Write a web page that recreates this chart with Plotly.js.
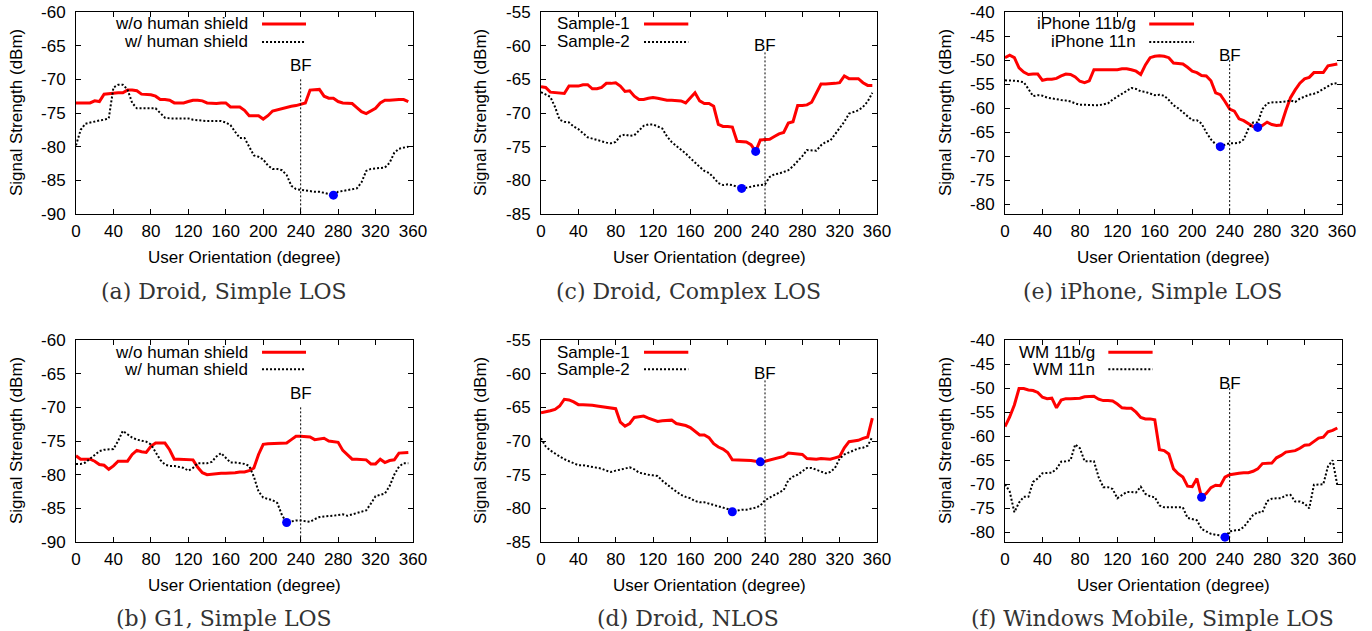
<!DOCTYPE html>
<html><head><meta charset="utf-8">
<script src="https://cdn.plot.ly/plotly-3.0.1.min.js"></script>
<style>html,body{margin:0;padding:0;background:#fff;}#chart{width:1372px;height:631px;}</style>
</head><body><div id="chart"></div>
<script>
// ---------- data ----------
const angles = [0,5,10,15,20,25,30,35, 40,45,50,55,60,65,70,75, 80,85,90,95,100,105,110,115,
  120,125,130,135,140,145,150,155, 160,165,170,175,180,185,190,195, 200,205,210,215,220,225,230,235,
  240,245,250,255,260,265,270,275, 280,285,290,295,300,305,310,315, 320,325,330,335,340,345,350,355];

// (a) Droid, Simple LOS
const aRed = [-73.5,-73.5,-73.5,-73.5,-73.2,-73.3,-72.2,-72.1, -72.0,-72.0,-72.0,-71.6,-71.6,-71.7,-72.2,-72.2,
  -72.3,-72.5,-73.0,-73.0,-73.1,-73.5,-73.5,-73.5, -73.3,-73.1,-73.1,-73.2,-73.5,-73.6,-73.6,-73.5,
  -73.5,-74.1,-74.1,-74.1,-74.6,-75.4,-75.4,-75.4, -75.9,-75.4,-74.7,-74.5,-74.4,-74.1,-74.0,-73.9,
  -73.7,-73.5,-71.6,-71.5,-71.5,-72.5,-72.8,-72.8, -73.3,-73.5,-73.5,-73.6,-74.2,-74.8,-75.1,-74.7,
  -74.3,-73.5,-73.1,-73.1,-73.0,-73.0,-73.0,-73.3];
const aBlack = [-79.8,-77.5,-76.6,-76.4,-76.2,-76.1,-76.0,-75.8, -71.2,-70.8,-70.8,-71.5,-73.5,-74.3,-74.3,-74.3,
  -74.3,-74.3,-75.0,-75.7,-75.8,-75.8,-75.7,-75.7, -75.8,-76.0,-76.1,-76.2,-76.2,-76.2,-76.2,-76.2,
  -76.4,-76.8,-77.8,-78.7,-78.7,-80.1,-81.3,-81.5, -81.9,-82.8,-83.3,-83.3,-83.5,-84.2,-85.8,-86.3,
  -86.4,-86.6,-86.7,-86.7,-86.7,-86.9,-87.0,-87.2, -86.7,-86.6,-86.5,-86.4,-86.2,-85.3,-83.6,-83.3,
  -83.2,-83.2,-83.1,-82.4,-80.9,-80.3,-80.1,-80.0];
// (c) Droid, Complex LOS
const cRed = [-66.1,-66.2,-66.9,-67.0,-67.1,-67.1,-66.0,-66.0, -66.0,-65.8,-65.8,-66.4,-66.4,-66.2,-65.6,-65.6,
  -65.5,-66.0,-66.8,-66.7,-67.5,-68.0,-68.0,-67.8, -67.7,-67.8,-68.0,-68.1,-68.1,-68.1,-68.2,-68.5,
  -67.8,-67.0,-68.2,-68.6,-68.6,-69.0,-71.7,-72.0, -72.0,-72.1,-74.2,-74.2,-74.3,-74.7,-75.7,-74.0,
  -74.0,-73.9,-73.5,-73.1,-72.9,-71.5,-71.3,-68.9, -68.9,-68.8,-68.4,-67.0,-65.7,-65.7,-65.7,-65.6,
  -65.5,-64.5,-64.9,-64.9,-64.9,-65.5,-65.9,-65.9];
const cBlack = [-66.9,-67.2,-67.6,-69.1,-71.0,-71.3,-71.4,-72.0, -72.4,-73.0,-73.6,-73.8,-74.0,-74.3,-74.4,-74.5,
  -74.3,-73.4,-73.2,-73.4,-73.3,-72.6,-71.9,-71.7, -71.7,-72.0,-72.3,-73.5,-74.3,-74.9,-75.4,-76.0,
  -76.7,-77.4,-78.0,-78.6,-78.9,-79.6,-80.4,-80.7, -80.6,-80.7,-80.9,-81.2,-81.1,-80.9,-80.8,-80.7,
  -80.6,-79.5,-79.1,-79.0,-78.7,-78.5,-77.9,-77.2, -76.4,-75.5,-75.5,-75.6,-74.8,-74.3,-74.1,-73.2,
  -72.3,-71.3,-70.1,-69.8,-69.6,-69.1,-68.3,-67.0];
// (e) iPhone, Simple LOS
const eRed = [-49.5,-49.0,-49.5,-51.6,-52.5,-53.0,-52.9,-52.9, -54.2,-54.0,-54.0,-53.8,-53.3,-52.9,-53.0,-53.5,
  -54.4,-54.7,-54.3,-52.0,-52.0,-52.0,-52.0,-52.0, -52.0,-51.8,-51.8,-52.0,-52.3,-53.0,-51.0,-49.5,
  -49.2,-49.1,-49.2,-49.5,-50.6,-50.7,-50.8,-51.5, -52.3,-52.6,-53.2,-53.3,-54.3,-56.8,-57.2,-58.6,
  -60.2,-60.6,-62.2,-62.6,-63.2,-63.8,-64.0,-63.6, -62.9,-63.4,-63.6,-63.5,-60.5,-57.8,-56.2,-54.8,
  -53.9,-53.6,-52.6,-52.6,-52.6,-51.2,-51.0,-50.8];
const eBlack = [-54.2,-54.2,-54.3,-54.4,-54.6,-56.0,-57.5,-57.3, -57.4,-57.8,-58.0,-58.2,-58.3,-58.4,-58.6,-59.0,
  -59.3,-59.3,-59.3,-59.3,-59.4,-59.2,-59.0,-58.2, -57.6,-57.0,-56.3,-55.8,-56.0,-56.5,-56.6,-57.0,
  -57.3,-57.2,-57.4,-58.3,-59.4,-60.0,-60.8,-61.8, -62.5,-62.5,-63.2,-65.0,-66.5,-67.5,-68.0,-67.6,
  -67.3,-67.3,-67.2,-66.5,-64.3,-63.0,-63.0,-60.2, -59.0,-58.8,-58.8,-58.7,-58.6,-58.4,-58.7,-58.0,
  -57.6,-57.2,-57.0,-56.6,-56.0,-55.5,-54.9,-54.8];
// (b) G1, Simple LOS
const bRed = [-77.2,-77.7,-77.7,-77.7,-78.0,-78.5,-78.6,-79.2, -78.7,-78.0,-78.0,-78.0,-77.0,-76.4,-76.6,-76.7,
  -75.8,-75.3,-75.3,-75.3,-76.3,-77.7,-77.7,-77.7, -77.7,-77.8,-78.9,-79.7,-80.0,-79.9,-79.8,-79.8,
  -79.8,-79.8,-79.7,-79.6,-79.6,-79.4,-79.0,-77.0, -75.5,-75.4,-75.4,-75.4,-75.4,-75.3,-74.8,-74.3,
  -74.3,-74.3,-74.4,-74.8,-74.7,-74.6,-75.0,-75.1, -75.2,-76.4,-77.0,-77.7,-77.7,-77.7,-77.8,-78.4,
  -78.4,-77.7,-78.2,-77.9,-77.8,-76.8,-76.7,-76.7];
const bBlack = [-78.4,-78.4,-78.2,-77.6,-77.0,-76.5,-76.3,-76.2, -76.2,-75.0,-73.5,-74.0,-74.5,-74.8,-74.9,-75.1,
  -75.5,-76.6,-77.8,-78.5,-78.7,-78.7,-78.8,-79.0, -79.4,-79.0,-78.3,-78.3,-78.3,-78.1,-77.3,-76.8,
  -77.5,-78.2,-78.2,-78.3,-78.4,-78.7,-80.3,-82.5, -83.4,-83.6,-83.8,-84.2,-86.0,-87.1,-86.9,-86.8,
  -86.8,-86.9,-87.0,-86.6,-86.3,-86.2,-86.2,-86.1, -86.0,-85.9,-86.1,-85.9,-85.6,-85.4,-85.3,-84.3,
  -83.2,-83.0,-82.8,-81.7,-80.0,-78.8,-78.3,-78.3];
// (d) Droid, NLOS
const dRed = [-65.8,-65.7,-65.5,-65.3,-64.8,-63.8,-63.9,-64.2, -64.6,-64.6,-64.6,-64.7,-64.8,-64.9,-64.9,-65.0,
  -65.2,-67.2,-67.8,-67.4,-66.5,-66.4,-66.3,-66.6, -66.8,-67.1,-67.0,-66.9,-66.9,-67.4,-67.5,-67.7,
  -68.0,-68.5,-69.1,-69.1,-69.5,-70.4,-70.9,-71.2, -71.7,-72.8,-72.8,-72.8,-72.8,-72.9,-73.0,-73.1,
  -73.0,-72.8,-72.7,-72.5,-72.3,-71.8,-71.9,-71.9, -72.0,-72.6,-72.7,-72.7,-72.6,-72.6,-72.7,-72.5,
  -72.3,-71.0,-70.1,-70.0,-69.9,-69.6,-69.4,-66.6];
const dBlack = [-69.6,-70.8,-71.4,-71.9,-72.3,-72.7,-73.0,-73.3, -73.6,-73.6,-73.7,-73.8,-73.9,-74.1,-74.4,-74.6,
  -74.4,-74.3,-74.1,-73.9,-74.2,-74.7,-74.9,-75.0, -75.1,-75.2,-75.9,-76.5,-77.0,-77.5,-78.0,-78.3,
  -78.5,-78.9,-79.1,-79.1,-79.3,-79.6,-79.8,-80.0, -80.1,-80.5,-80.3,-80.2,-80.2,-80.1,-79.9,-79.6,
  -78.8,-78.4,-78.0,-77.6,-77.3,-75.8,-75.3,-75.0, -74.5,-74.0,-74.0,-74.3,-74.6,-74.8,-74.6,-74.0,
  -72.6,-72.0,-71.7,-71.4,-71.1,-71.0,-70.7,-69.4];
// (f) Windows Mobile, Simple LOS
const fRed = [-58.0,-56.0,-53.5,-50.1,-50.1,-50.4,-50.5,-50.9, -51.9,-52.2,-52.1,-54.1,-52.5,-52.2,-52.2,-52.2,
  -52.1,-51.8,-51.7,-51.7,-52.3,-52.6,-52.6,-52.7, -53.3,-54.1,-54.2,-54.2,-55.0,-56.1,-56.4,-56.4,
  -56.6,-62.8,-63.0,-63.7,-66.8,-67.8,-68.5,-70.4, -70.5,-68.8,-72.7,-71.9,-70.7,-70.2,-70.3,-68.5,
  -68.0,-67.8,-67.7,-67.6,-67.6,-67.3,-66.8,-65.7, -65.6,-65.6,-64.5,-64.0,-63.3,-63.1,-63.0,-62.5,
  -61.9,-61.8,-61.0,-60.4,-60.2,-59.1,-58.8,-58.3];
const fBlack = [-70.0,-71.5,-75.8,-73.8,-72.6,-72.6,-69.5,-68.8, -67.7,-67.7,-67.6,-66.8,-65.3,-65.2,-65.0,-61.7,
  -62.5,-65.2,-65.2,-65.2,-68.5,-70.6,-70.6,-71.0, -72.9,-72.3,-71.6,-71.6,-71.7,-70.5,-72.0,-72.5,
  -72.7,-74.4,-74.8,-74.8,-74.8,-74.8,-74.8,-77.0, -77.2,-77.5,-79.3,-79.8,-80.3,-80.5,-80.6,-81.0,
  -79.8,-79.6,-79.5,-78.9,-77.7,-76.4,-75.8,-75.8, -73.5,-73.0,-72.9,-72.9,-72.3,-72.2,-73.6,-73.6,
  -74.0,-75.0,-70.1,-70.0,-70.0,-66.3,-65.0,-70.2];

// minimum points (blue dots)
const aDotX = [275], aDotY = [-87.2];
const cDotX = [230, 215], cDotY = [-75.7, -81.2];
const eDotX = [230, 270], eDotY = [-68.0, -64.0];
const bDotX = [225], bDotY = [-87.1];
const dDotX = [235, 205], dDotY = [-73.1, -80.5];
const fDotX = [210, 235], fDotY = [-72.7, -81.0];

// BF marker (angle, line top, label position)
const bfAngle = 240;
const bfTop = [-70, -61, -50, -70, -61, -50];
const bfLabelY = [-68, -60, -49, -68, -60, -49];

// axis ticks
const xTicks = [0,40,80,120,160,200,240,280,320,360];
const yTicksA = [-90,-85,-80,-75,-70,-65,-60];
const yTicksC = [-85,-80,-75,-70,-65,-60,-55];
const yTicksE = [-80,-75,-70,-65,-60,-55,-50,-45,-40];
const yRanges = [[-90,-60],[-85,-55],[-82,-40],[-90,-60],[-85,-55],[-82,-40]];

// text
const legendA = ["w/o human shield", "w/ human shield"];
const legendC = ["Sample-1", "Sample-2"];
const legendE = ["iPhone 11b/g", "iPhone 11n"];
const legendF = ["WM 11b/g", "WM 11n"];
const captions = ["(a) Droid, Simple LOS", "(c) Droid, Complex LOS", "(e) iPhone, Simple LOS",
                  "(b) G1, Simple LOS", "(d) Droid, NLOS", "(f) Windows Mobile, Simple LOS"];
const xTitle = "User Orientation (degree)";
const yTitle = "Signal Strength (dBm)";

// ---------- layout geometry ----------
const W = 1372, H = 631;
const px = v => v / W, py = v => 1 - v / H;
const cols = [[76, 413], [541, 877], [1005, 1342]];
const rows = [[12, 214], [340, 542]];
const captionCX = [224, 688, 1152];
const yTitleX = [16, 480, 945];
const xTitleY = [257, 585];
const captionY = [291, 618];
// legend placement in axis-domain fraction: [textRight, lineStart, lineEnd]
const legX = [[0.516, 0.552, 0.6825], [0.27, 0.3066, 0.4384], [0.3956, 0.428, 0.561],
              [0.516, 0.552, 0.6825], [0.27, 0.3066, 0.4384], [0.274, 0.3066, 0.438]];
const legY = [[0.9406, 0.8515], [0.9406, 0.8515], [0.9406, 0.8515],
              [0.939, 0.855], [0.939, 0.855], [0.939, 0.855]];

const panels = [
  {red: aRed, black: aBlack, dx: aDotX, dy: aDotY, leg: legendA, yt: yTicksA, col: 0, row: 0},
  {red: cRed, black: cBlack, dx: cDotX, dy: cDotY, leg: legendC, yt: yTicksC, col: 1, row: 0},
  {red: eRed, black: eBlack, dx: eDotX, dy: eDotY, leg: legendE, yt: yTicksE, col: 2, row: 0},
  {red: bRed, black: bBlack, dx: bDotX, dy: bDotY, leg: legendA, yt: yTicksA, col: 0, row: 1},
  {red: dRed, black: dBlack, dx: dDotX, dy: dDotY, leg: legendC, yt: yTicksC, col: 1, row: 1},
  {red: fRed, black: fBlack, dx: fDotX, dy: fDotY, leg: legendF, yt: yTicksE, col: 2, row: 1}
];

const SANS = "Liberation Sans, Arial, Helvetica, sans-serif";
const SERIF = "DejaVu Serif, serif";
const traces = [], shapes = [], annotations = [];
const layout = {
  width: W, height: H, margin: {l: 0, r: 0, t: 0, b: 0},
  paper_bgcolor: "#fff", plot_bgcolor: "#fff", showlegend: false,
  font: {family: SANS, size: 17, color: "#000"}
};

panels.forEach((p, i) => {
  const s = i === 0 ? "" : String(i + 1);
  const xa = "x" + s, ya = "y" + s;
  const c = cols[p.col], r = rows[p.row];
  layout["xaxis" + s] = {
    domain: [px(c[0]), px(c[1])], anchor: ya, range: [0, 360],
    tickmode: "array", tickvals: xTicks, ticktext: xTicks.map(String),
    ticks: "inside", ticklen: 5, tickcolor: "#000", mirror: "allticks",
    showline: true, linecolor: "#000", linewidth: 1, showgrid: false, zeroline: false,
    tickfont: {family: SANS, size: 17, color: "#000"}, ticklabelstandoff: 2, fixedrange: true
  };
  layout["yaxis" + s] = {
    domain: [py(r[1]), py(r[0])], anchor: xa, range: yRanges[i],
    tickmode: "array", tickvals: p.yt, ticktext: p.yt.map(String),
    ticks: "inside", ticklen: 5, tickcolor: "#000", mirror: "allticks",
    showline: true, linecolor: "#000", linewidth: 1, showgrid: false, zeroline: false,
    tickfont: {family: SANS, size: 17, color: "#000"}, ticklabelstandoff: 6, fixedrange: true
  };
  traces.push({x: angles, y: p.red, xaxis: xa, yaxis: ya, mode: "lines", name: p.leg[0],
    line: {color: "#ff0000", width: 3}, hoverinfo: "skip"});
  traces.push({x: angles, y: p.black, xaxis: xa, yaxis: ya, mode: "lines", name: p.leg[1],
    line: {color: "#000", width: 2, dash: "2px,2px"}, hoverinfo: "skip"});
  traces.push({x: p.dx, y: p.dy, xaxis: xa, yaxis: ya, mode: "markers",
    marker: {color: "#0000ff", size: 9}, hoverinfo: "skip"});

  // BF line + label
  shapes.push({type: "line", xref: xa, yref: ya, x0: bfAngle, x1: bfAngle, y0: bfTop[i], y1: yRanges[i][0],
    line: {color: "#000", width: 1, dash: "2px,2px"}});
  annotations.push({xref: xa, yref: ya, x: bfAngle, y: bfLabelY[i], text: "BF", showarrow: false,
    xanchor: "center", yanchor: "middle", font: {family: SANS, size: 17, color: "#000"}});

  // legend
  const lx = legX[i], ly = legY[i];
  p.leg.forEach((lab, k) => {
    annotations.push({xref: xa + " domain", yref: ya + " domain", x: lx[0], y: ly[k], text: lab,
      showarrow: false, xanchor: "right", yanchor: "middle", font: {family: SANS, size: 17, color: "#000"}});
    shapes.push({type: "line", xref: xa + " domain", yref: ya + " domain", x0: lx[1], x1: lx[2], y0: ly[k], y1: ly[k],
      line: k === 0 ? {color: "#ff0000", width: 3} : {color: "#000", width: 2, dash: "2px,2px"}});
  });

  // axis titles and caption
  annotations.push({xref: "paper", yref: "paper", x: px((c[0] + c[1]) / 2), y: py(xTitleY[p.row]), text: xTitle,
    showarrow: false, xanchor: "center", yanchor: "middle", font: {family: SANS, size: 17, color: "#000"}});
  annotations.push({xref: "paper", yref: "paper", x: px(yTitleX[p.col]), y: py((r[0] + r[1]) / 2), text: yTitle,
    textangle: -90, showarrow: false, xanchor: "center", yanchor: "middle", font: {family: SANS, size: 17, color: "#000"}});
  annotations.push({xref: "paper", yref: "paper", x: px(captionCX[p.col]), y: py(captionY[p.row]), text: captions[i],
    showarrow: false, xanchor: "center", yanchor: "middle", font: {family: SERIF, size: 22, color: "#333"}});
});

layout.shapes = shapes;
layout.annotations = annotations;
Plotly.newPlot("chart", traces, layout, {staticPlot: true, displayModeBar: false});
</script>
</body></html>
